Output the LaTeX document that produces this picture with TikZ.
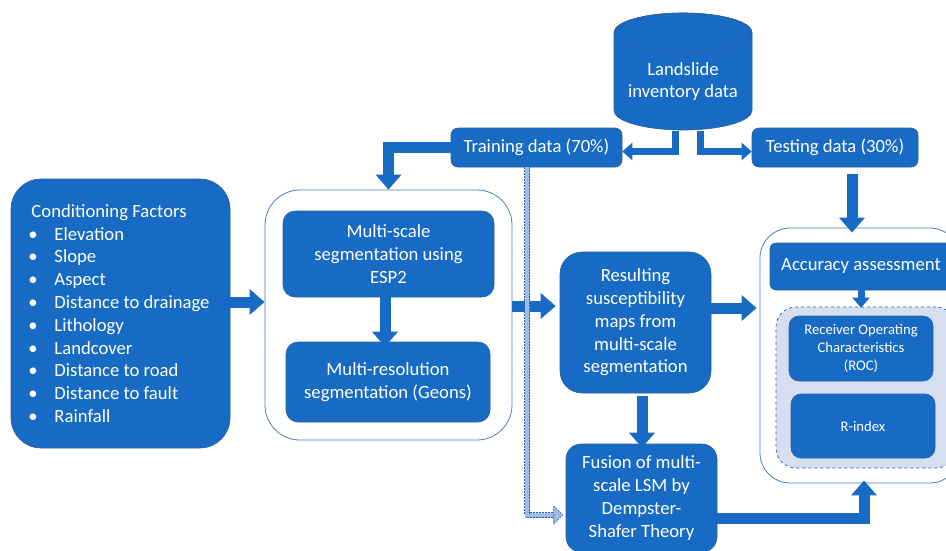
\documentclass[tikz,border=0pt]{standalone}
\usepackage{fontspec}
\setmainfont{Carlito}
\usetikzlibrary{arrows.meta}

\definecolor{lsblue}{HTML}{176BC4}
\definecolor{lsedge}{HTML}{2C5E9E}
\definecolor{lsline}{HTML}{4A7EBB}
\definecolor{lslight}{HTML}{D5DFF0}
\definecolor{lsdash}{HTML}{9DBDE6}

\tikzset{
  box/.style={rectangle, rounded corners=#1, fill=lsblue, draw=lsedge, line width=0.6pt,
    text=white, align=center, inner sep=0pt, font=\fontsize{18.67}{22.8}\selectfont},
  box/.default=7pt,
  frame/.style={rectangle, rounded corners=#1, draw=lsline, line width=0.8pt, fill=white, inner sep=0pt},
  bigarrow/.style={lsblue, line width=11pt, line join=miter, -{Triangle[length=15pt,width=25pt]}},
  smallarrow/.style={lsblue, line width=7pt, line join=miter, -{Triangle[length=10pt,width=17pt]}},
}
\newcommand{\itm}[1]{\makebox[23pt][l]{\hspace*{-3pt}•}#1}

\begin{document}
\begin{tikzpicture}[x=1pt, y=-1pt]
  \useasboundingbox (0,0) rectangle (946,550);
  \clip (0,0) rectangle (946,550);
  \fill[white] (0,0) rectangle (946,550);

  % Inventaire (cylindre)
  \filldraw[fill=lsblue, draw=lsedge, line width=0.6pt] (614,32.5) -- (614,110.5)
    arc[start angle=180, end angle=0, x radius=69, y radius=19.5] -- (752,32.5)
    arc[start angle=0, end angle=-180, x radius=69, y radius=19.5] -- cycle;
  \draw[lsedge, line width=0.6pt] (683,32.5) ellipse [x radius=69, y radius=19.5];
  \node[text=white, align=center, inner sep=0pt, font=\fontsize{18.67}{22.8}\selectfont,
    minimum width=138pt, minimum height=98pt] (inv) at (683,81.5) {Landslide\\inventory data};

  \node[box, minimum width=171pt, minimum height=39pt] (train) at (536.5,147.5) {Training data (70\%)};
  \node[box, minimum width=166pt, minimum height=39pt] (test) at (835,147.5) {Testing data (30\%)};

  % Facteurs
  \node[box=30pt, minimum width=219pt, minimum height=269pt, align=left] (cond) at (120.5,313.5)
    {Conditioning Factors\\ \itm{Elevation}\\ \itm{Slope}\\ \itm{Aspect}\\ \itm{Distance to drainage}\\
     \itm{Lithology}\\ \itm{Landcover}\\ \itm{Distance to road}\\ \itm{Distance to fault}\\ \itm{Rainfall}};

  % Segmentation
  \node[frame=35pt, minimum width=247pt, minimum height=250pt] (seg) at (388.5,315) {};
  \node[box=12pt, minimum width=211pt, minimum height=86pt] (esp) at (388.5,254) {Multi-scale\\segmentation using\\ESP2};
  \node[box=12pt, minimum width=204pt, minimum height=80pt] (geon) at (388,382) {Multi-resolution\\segmentation (Geons)};

  % Cartes
  \node[box=22pt, minimum width=151pt, minimum height=141pt] (res) at (635.5,322.5)
    {Resulting\\susceptibility\\maps from\\multi-scale\\segmentation};
  \node[box=15pt, minimum width=151pt, minimum height=108pt] (fus) at (641.5,498)
    {Fusion of multi-\\scale LSM by\\Dempster-\\Shafer Theory};

  % Validation
  \node[frame=30pt, minimum width=200pt, minimum height=255pt] (acc) at (860,355.5) {};
  \node[box=6pt, minimum width=182pt, minimum height=47pt] (assess) at (861,266.5) {Accuracy assessment};
  \node[rectangle, rounded corners=20pt, draw=lsedge, dashed, fill=lslight, line width=0.7pt,
    minimum width=180pt, minimum height=161pt] (valid) at (866,387.5) {};
  \node[box=10pt, minimum width=144pt, minimum height=65pt, font=\fontsize{14.67}{18}\selectfont] (roc) at (861,348.5)
    {Receiver Operating\\Characteristics\\(ROC)};
  \node[box=10pt, minimum width=144pt, minimum height=64pt, font=\fontsize{14.67}{18}\selectfont] (rix) at (863,426) {R-index};

  % Fleches
  \draw[smallarrow] ([xshift=-8pt]inv.south) |- ([yshift=-4pt]train.east);
  \draw[smallarrow] ([xshift=17pt]inv.south) |- ([yshift=-4pt]test.west);
  \draw[bigarrow] (train.west) -| (seg.north);
  \draw[bigarrow] (cond.east |- 0,302) -- (seg.west |- 0,302);
  \draw[bigarrow] (esp.south -| 385,0) -- ([yshift=-5pt]geon.north -| 385,0);
  \draw[bigarrow] (seg.east |- 0,306) -- ([xshift=-4pt]res.west |- 0,306);
  \draw[bigarrow] (res.east |- 0,308) -- ([xshift=-3pt]acc.west |- 0,308);
  \draw[bigarrow] ([yshift=-3pt]res.south -| 642,0) -- ([yshift=-4pt]fus.north -| 642,0);
  \draw[bigarrow] ([yshift=-7pt]test.south -| 852,0) -- ([yshift=-5pt]acc.north -| 852,0);
  \draw[bigarrow] (fus.east |- 0,518) -| ([yshift=3pt]acc.south -| 864,0);
  \draw[smallarrow] (assess.south) -- ([yshift=-1pt]valid.north -| assess.south);

  % Fleche en pointilles
  \coordinate (dtop) at (train.south -| 527,0);
  \coordinate (dbend) at (527,515);
  \coordinate (dend) at ([xshift=-12pt]fus.west |- 0,515);
  \draw[lsdash, line width=5pt, line join=miter] (dtop) -- (dbend) -- (dend);
  \draw[lsedge, line width=0.6pt, double=lsdash, double distance=4pt, line join=miter,
    dash pattern=on 2pt off 1pt] (dtop) -- (dbend) -- (dend);
  \filldraw[fill=lsdash, draw=lsedge, line width=0.6pt, dash pattern=on 2pt off 1pt]
    ([yshift=9pt]dend) -- ([xshift=-3pt]fus.west |- 0,515) -- ([yshift=-9pt]dend) -- cycle;
\end{tikzpicture}
\end{document}
